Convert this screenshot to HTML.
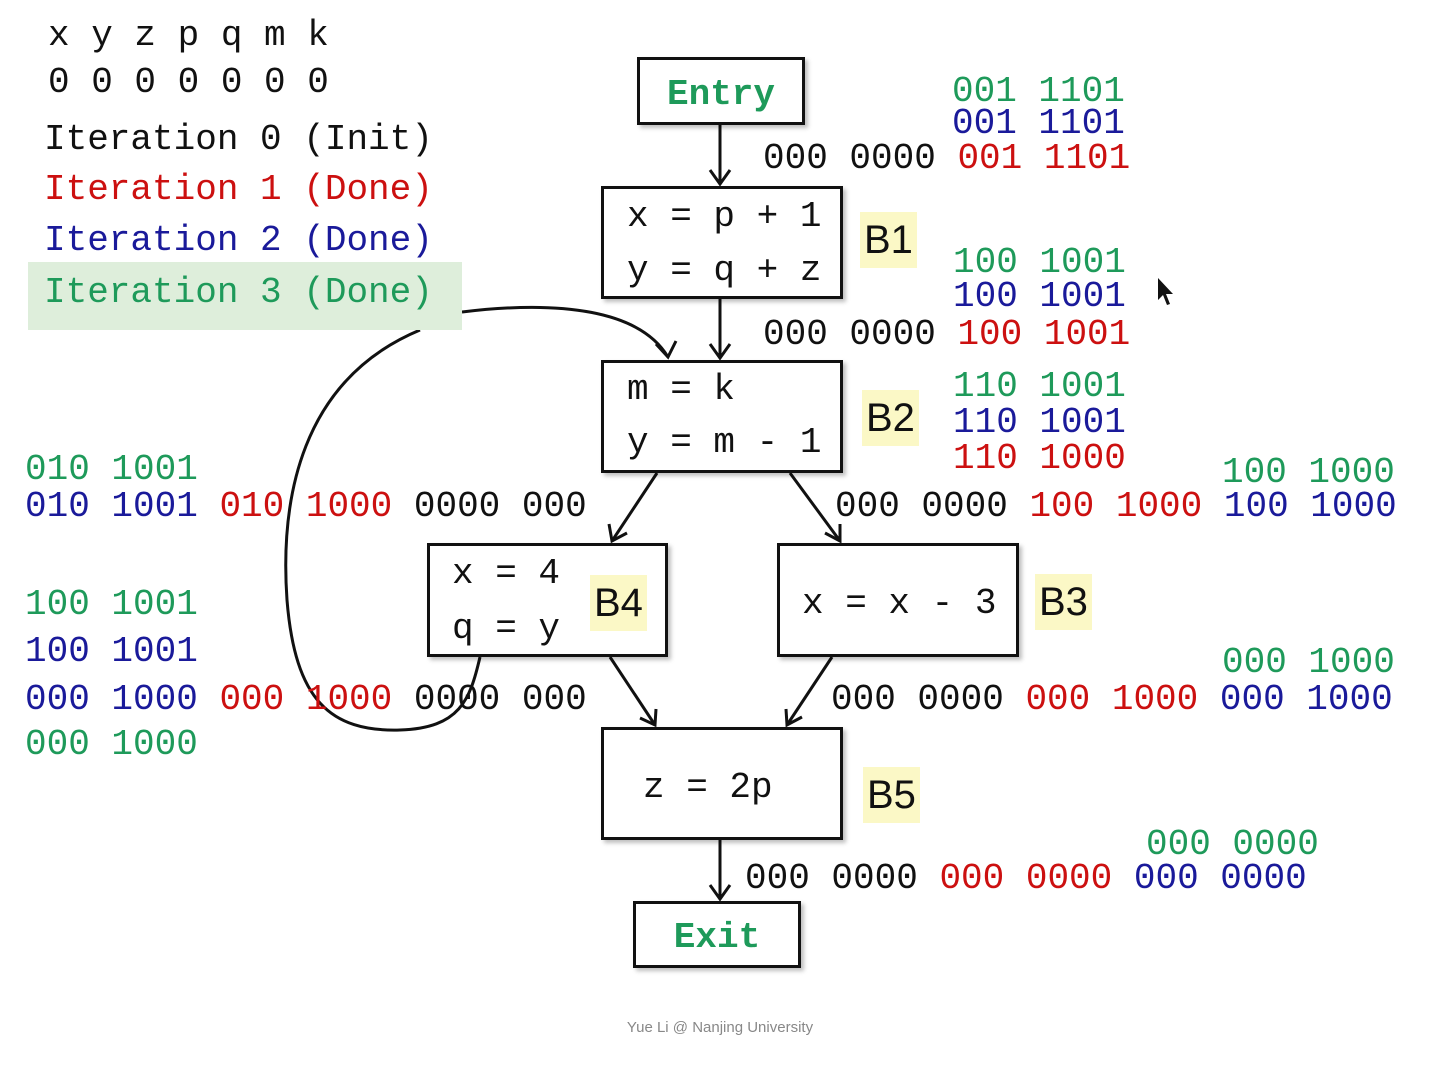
<!DOCTYPE html>
<html><head><meta charset="utf-8"><style>
body{margin:0;width:1440px;height:1080px;background:#fff;position:relative;overflow:hidden;font-family:"Liberation Mono",monospace;}
.t{position:absolute;font-size:36px;line-height:36px;white-space:pre;color:#111;margin-top:3px;}
.g{color:#1e9a5a}.b{color:#1a1a9a}.r{color:#cc1010}.k{color:#111}
.box{position:absolute;border:3px solid #111;background:#fff;box-sizing:border-box;box-shadow:3px 3px 4px rgba(0,0,0,0.25);}
.lab{position:absolute;font-family:"Liberation Sans",sans-serif;font-size:40px;line-height:56px;background:#fbf8c6;padding:0 4px;color:#111;}
svg{position:absolute;left:0;top:0}
</style></head><body>
<svg width="1440" height="1080">
<g fill="none" stroke="#111" stroke-width="3">
<path d="M480 657 C470 700 460 728 400 730 C330 732 295 700 287 600 C280 500 300 380 420 330"/>
<path d="M462 312 C560 300 640 310 668 357"/>
<path d="M656 344 L668 357 L676 341"/>
<line x1="720" y1="125" x2="720" y2="184"/><path d="M710 170 L720 184 L730 170"/>
<line x1="720" y1="299" x2="720" y2="358"/><path d="M710 344 L720 358 L730 344"/>
<line x1="657" y1="473" x2="612" y2="541"/><path d="M609 524 L612 541 L627 533"/>
<line x1="790" y1="473" x2="840" y2="541"/><path d="M825 533 L840 541 L840 524"/>
<line x1="610" y1="657" x2="655" y2="725"/><path d="M640 718 L655 725 L656 709"/>
<line x1="832" y1="657" x2="787" y2="725"/><path d="M786 709 L787 725 L802 717"/>
<line x1="720" y1="840" x2="720" y2="899"/><path d="M710 885 L720 899 L730 885"/>
</g>
<path d="M1158 278 L1158 300 L1163 295 L1167 305 L1170 304 L1166 294 L1173 294 Z" fill="#111"/>
</svg>
<div style="position:absolute;left:28px;top:262px;width:434px;height:68px;background:#deeedb"></div>

<div class="t" style="left:48px;top:15px">x y z p q m k</div>
<div class="t" style="left:48px;top:62px">0 0 0 0 0 0 0</div>
<div class="t" style="left:44px;top:119px">Iteration 0 (Init)</div>
<div class="t r" style="left:44px;top:169px">Iteration 1 (Done)</div>
<div class="t b" style="left:44px;top:220px">Iteration 2 (Done)</div>
<div class="t g" style="left:44px;top:272px">Iteration 3 (Done)</div>

<div class="box" style="left:637px;top:57px;width:168px;height:68px"></div>
<div class="t g" style="left:637px;top:74px;width:168px;text-align:center;font-weight:bold">Entry</div>
<div class="box" style="left:601px;top:186px;width:242px;height:113px"></div>
<div class="t" style="left:627px;top:196px">x = p + 1</div>
<div class="t" style="left:627px;top:250px">y = q + z</div>
<div class="lab" style="left:860px;top:212px">B1</div>
<div class="box" style="left:601px;top:360px;width:242px;height:113px"></div>
<div class="t" style="left:627px;top:369px">m = k</div>
<div class="t" style="left:627px;top:422px">y = m - 1</div>
<div class="lab" style="left:862px;top:390px">B2</div>
<div class="box" style="left:427px;top:543px;width:241px;height:114px"></div>
<div class="t" style="left:452px;top:553px">x = 4</div>
<div class="t" style="left:452px;top:608px">q = y</div>
<div class="lab" style="left:590px;top:575px">B4</div>
<div class="box" style="left:777px;top:543px;width:242px;height:114px"></div>
<div class="t" style="left:802px;top:583px">x = x - 3</div>
<div class="lab" style="left:1035px;top:574px">B3</div>
<div class="box" style="left:601px;top:727px;width:242px;height:113px"></div>
<div class="t" style="left:643px;top:767px">z = 2p</div>
<div class="lab" style="left:863px;top:767px">B5</div>
<div class="box" style="left:633px;top:901px;width:168px;height:67px"></div>
<div class="t g" style="left:633px;top:917px;width:168px;text-align:center;font-weight:bold">Exit</div>

<div class="t g" style="left:952px;top:71px">001 1101</div>
<div class="t b" style="left:952px;top:103px">001 1101</div>
<div class="t" style="left:763px;top:138px">000 0000 <span class="r">001 1101</span></div>
<div class="t g" style="left:953px;top:242px">100 1001</div>
<div class="t b" style="left:953px;top:276px">100 1001</div>
<div class="t" style="left:763px;top:314px">000 0000 <span class="r">100 1001</span></div>
<div class="t g" style="left:953px;top:366px">110 1001</div>
<div class="t b" style="left:953px;top:402px">110 1001</div>
<div class="t r" style="left:953px;top:438px">110 1000</div>

<div class="t g" style="left:25px;top:449px">010 1001</div>
<div class="t b" style="left:25px;top:486px">010 1001 <span class="r">010 1000</span> <span class="k">0000 000</span></div>
<div class="t g" style="left:1222px;top:452px">100 1000</div>
<div class="t" style="left:835px;top:486px">000 0000 <span class="r">100 1000</span> <span class="b">100 1000</span></div>

<div class="t g" style="left:25px;top:584px">100 1001</div>
<div class="t b" style="left:25px;top:631px">100 1001</div>
<div class="t b" style="left:25px;top:679px">000 1000 <span class="r">000 1000</span> <span class="k">0000 000</span></div>
<div class="t g" style="left:25px;top:724px">000 1000</div>
<div class="t g" style="left:1222px;top:642px">000 1000</div>
<div class="t" style="left:831px;top:679px">000 0000 <span class="r">000 1000</span> <span class="b">000 1000</span></div>

<div class="t g" style="left:1146px;top:824px">000 0000</div>
<div class="t" style="left:745px;top:858px">000 0000 <span class="r">000 0000</span> <span class="b">000 0000</span></div>

<div style="position:absolute;left:0;width:1440px;top:1019px;text-align:center;font-family:'Liberation Sans',sans-serif;font-size:15px;color:#888">Yue Li @ Nanjing University</div>
</body></html>
